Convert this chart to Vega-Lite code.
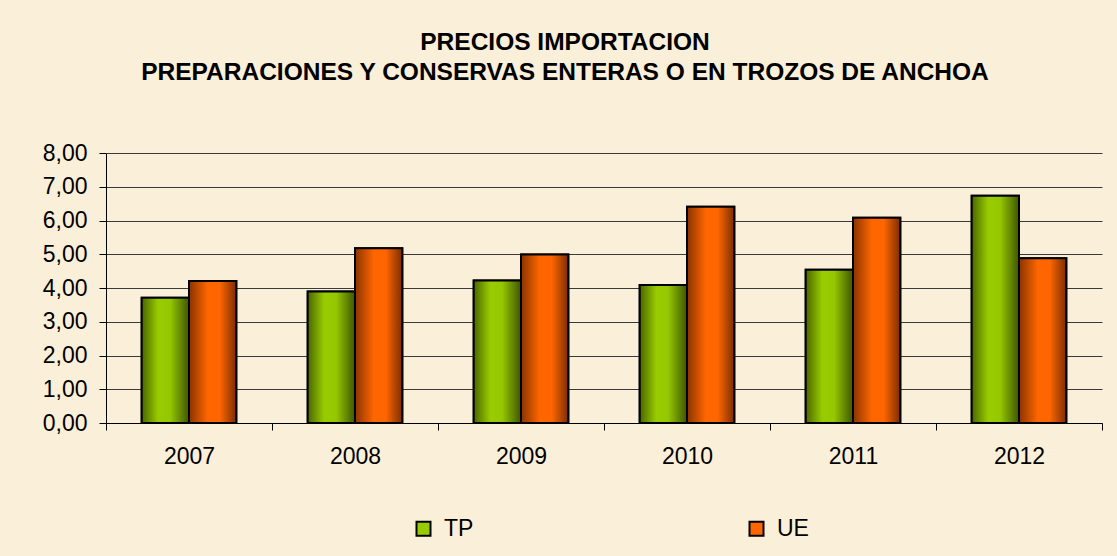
{
  "$schema": "https://vega.github.io/schema/vega-lite/v6.json",
  "width": 996,
  "height": 270,
  "autosize": {"type": "none"},
  "padding": {"left": 106, "top": 153, "right": 15, "bottom": 133},
  "background": "#FAEFD8",
  "title": {
    "text": ["PRECIOS IMPORTACION", "PREPARACIONES Y CONSERVAS ENTERAS O EN TROZOS DE ANCHOA"],
    "font": "Liberation Sans",
    "fontSize": 24.5,
    "fontWeight": "bold",
    "color": "#000000",
    "lineHeight": 30,
    "offset": 57,
    "dx": -39,
    "anchor": "middle"
  },
  "data": {
    "values": [
      {"year": "2007", "serie": "TP", "precio": 3.71},
      {"year": "2007", "serie": "UE", "precio": 4.21},
      {"year": "2008", "serie": "TP", "precio": 3.90},
      {"year": "2008", "serie": "UE", "precio": 5.18},
      {"year": "2009", "serie": "TP", "precio": 4.22},
      {"year": "2009", "serie": "UE", "precio": 4.99},
      {"year": "2010", "serie": "TP", "precio": 4.09},
      {"year": "2010", "serie": "UE", "precio": 6.41},
      {"year": "2011", "serie": "TP", "precio": 4.54},
      {"year": "2011", "serie": "UE", "precio": 6.08},
      {"year": "2012", "serie": "TP", "precio": 6.73},
      {"year": "2012", "serie": "UE", "precio": 4.88}
    ]
  },
  "encoding": {
    "x": {
      "field": "year",
      "type": "nominal",
      "scale": {"paddingInner": 0, "paddingOuter": 0},
      "axis": {
        "title": null,
        "labelAngle": 0,
        "tickBand": "extent",
        "domainColor": "#000000",
        "domainWidth": 1,
        "tickColor": "#000000",
        "tickSize": 7,
        "labelFont": "Liberation Sans",
        "labelFontSize": 23,
        "labelColor": "#000000",
        "labelPadding": 15,
        "grid": false
      }
    },
    "xOffset": {
      "field": "serie",
      "type": "nominal",
      "scale": {"paddingInner": 0, "paddingOuter": 0.755}
    },
    "y": {
      "field": "precio",
      "type": "quantitative",
      "scale": {"domain": [0, 8]},
      "axis": {
        "title": null,
        "values": [0, 1, 2, 3, 4, 5, 6, 7, 8],
        "labelExpr": "replace(format(datum.value, '.2f'), '.', ',')",
        "grid": true,
        "gridColor": "#3a3a3a",
        "gridOpacity": 1,
        "gridWidth": 1,
        "domainColor": "#000000",
        "domainWidth": 1,
        "tickColor": "#000000",
        "tickSize": 7,
        "labelFont": "Liberation Sans",
        "labelFontSize": 23,
        "labelColor": "#000000",
        "labelPadding": 12
      }
    }
  },
  "layer": [
    {
      "mark": {"type": "bar", "stroke": "#000000", "strokeWidth": 2},
      "encoding": {
        "color": {
          "field": "serie",
          "type": "nominal",
          "scale": {"domain": ["TP", "UE"], "range": ["#99CC00", "#FF6600"]},
          "legend": {
            "orient": "none",
            "legendX": 306,
            "legendY": 364,
            "direction": "horizontal",
            "columns": 2,
            "title": null,
            "symbolType": "square",
            "symbolSize": 196,
            "symbolStrokeColor": "#000000",
            "symbolStrokeWidth": 2,
            "labelFont": "Liberation Sans",
            "labelFontSize": 23,
            "labelColor": "#000000",
            "labelOffset": 9,
            "columnPadding": 271,
            "padding": 0
          }
        }
      }
    },
    {
      "transform": [{"filter": "datum.serie === 'TP'"}],
      "mark": {
        "type": "bar",
        "stroke": "#000000",
        "strokeWidth": 2,
        "fill": {
          "gradient": "linear",
          "x1": 0, "y1": 0, "x2": 1, "y2": 0,
          "stops": [
            {"offset": 0, "color": "#4A6600"},
            {"offset": 0.35, "color": "#99CC00"},
            {"offset": 0.6, "color": "#95C800"},
            {"offset": 1, "color": "#3E5500"}
          ]
        }
      }
    },
    {
      "transform": [{"filter": "datum.serie === 'UE'"}],
      "mark": {
        "type": "bar",
        "stroke": "#000000",
        "strokeWidth": 2,
        "fill": {
          "gradient": "linear",
          "x1": 0, "y1": 0, "x2": 1, "y2": 0,
          "stops": [
            {"offset": 0, "color": "#8A3300"},
            {"offset": 0.4, "color": "#FF6600"},
            {"offset": 0.65, "color": "#FF6600"},
            {"offset": 1, "color": "#7A2E00"}
          ]
        }
      }
    }
  ],
  "config": {
    "view": {"stroke": null},
    "font": "Liberation Sans"
  }
}
